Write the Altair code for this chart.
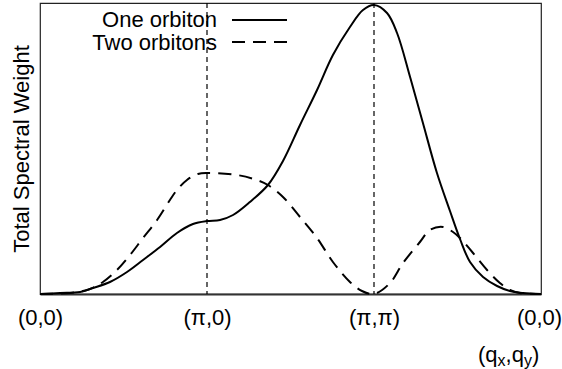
import altair as alt
import pandas as pd

# path positions along (0,0) -> (pi,0) -> (pi,pi) -> (0,0)
tick_pos = [0, 1, 2, 3]
tick_labels = ["(0,0)", "(π,0)", "(π,π)", "(0,0)"]

one_q = [0, 0.120, 0.240, 0.317, 0.419, 0.521, 0.617, 0.719, 0.820, 0.916, 1.0, 1.078, 1.156,
         1.257, 1.365, 1.455, 1.557, 1.659, 1.754, 1.856, 1.934, 2.0, 2.078, 2.138, 2.216,
         2.293, 2.377, 2.455, 2.515, 2.575, 2.653, 2.737, 2.814, 2.892, 3.0]
one_w = [0, 1, 2, 6, 12, 22, 34, 47, 61, 70, 73, 74, 79,
         92, 109, 133, 169, 204, 239, 267, 284, 289, 281, 261, 217,
         171, 121, 83, 55, 32, 17, 8, 3, 1, 0]

two_q = [0, 0.180, 0.299, 0.377, 0.461, 0.539, 0.617, 0.701, 0.778, 0.820, 0.880, 0.946, 1.0,
         1.180, 1.299, 1.365, 1.455, 1.557, 1.659, 1.754, 1.856, 1.928, 2.0, 2.096, 2.174,
         2.275, 2.335, 2.413, 2.473, 2.515, 2.593, 2.677, 2.754, 2.814, 2.874, 3.0]
two_w = [0, 1, 5, 12, 24, 39, 56, 74, 94, 104, 114, 120, 121,
         119, 114, 109, 97, 77, 56, 32, 12, 3, 0, 11, 31,
         52, 64, 67, 62, 56, 41, 24, 11, 4, 1, 0]

vlines = [1, 2]
legend_labels = ["One orbiton", "Two orbitons"]

FONT = "Liberation Sans"
FS = 22

df_one = pd.DataFrame({"q": one_q, "w": one_w})
df_two = pd.DataFrame({"q": two_q, "w": two_w})
df_v = pd.DataFrame({"q": vlines})
dummy = pd.DataFrame({"a": [0]})

label_expr = ("datum.value == 0 ? '" + tick_labels[0] + "' : datum.value == 1 ? '" + tick_labels[1] +
              "' : datum.value == 2 ? '" + tick_labels[2] + "' : '" + tick_labels[3] + "'")

xenc = alt.X("q:Q", scale=alt.Scale(domain=[0, 3], nice=False, zero=False),
             axis=alt.Axis(values=tick_pos, labelExpr=label_expr, title=None, ticks=False,
                           grid=False, labelFontSize=FS, labelFont=FONT, labelColor="black",
                           labelPadding=13, labelOverlap=False, labelBound=False, labelFlush=False,
                           labelOffset={"condition": {"test": "datum.value == 3", "value": -2}, "value": 0},
                           domainColor="#333", domainWidth=2))
yenc = alt.Y("w:Q", scale=alt.Scale(domain=[0, 291], nice=False),
             axis=alt.Axis(title="Total Spectral Weight", labels=False, ticks=False, grid=False,
                           domain=False, titleFont=FONT, titleFontSize=22, titleFontWeight="normal",
                           titleColor="black", titlePadding=7))

one = alt.Chart(df_one).mark_line(color="black", strokeWidth=2, interpolate="catmull-rom").encode(x=xenc, y=yenc)
two = alt.Chart(df_two).mark_line(color="black", strokeWidth=2, strokeDash=[13, 8],
                                  interpolate="catmull-rom").encode(x="q:Q", y="w:Q")
vr = alt.Chart(df_v).mark_rule(color="black", strokeWidth=1.2, strokeDash=[5, 4]).encode(x="q:Q")

leg1 = alt.Chart(dummy).mark_text(text=legend_labels[0], align="right", baseline="alphabetic",
                                  font=FONT, fontSize=FS, color="black").encode(x=alt.value(177), y=alt.value(24))
leg2 = alt.Chart(dummy).mark_text(text=legend_labels[1], align="right", baseline="alphabetic",
                                  font=FONT, fontSize=FS, color="black").encode(x=alt.value(177), y=alt.value(47))
legl1 = alt.Chart(dummy).mark_rule(color="black", strokeWidth=2).encode(
    x=alt.value(192), x2=alt.value(247), y=alt.value(17))
legl2 = alt.Chart(dummy).mark_rule(color="black", strokeWidth=2, strokeDash=[13, 8]).encode(
    x=alt.value(192), x2=alt.value(247), y=alt.value(39))

# (q_x,q_y) axis caption built from pieces for the subscripts
pieces = [("(q", 438, 359, FS), ("x", 457.6, 363, 16), (",q", 465.6, 359, FS),
          ("y", 483.9, 363, 16), (")", 491.9, 359, FS)]
cap_layers = []
for txt, px, py, fs in pieces:
    cap_layers.append(alt.Chart(dummy).mark_text(text=txt, align="left", baseline="alphabetic",
                                                 font=FONT, fontSize=fs, color="black")
                      .encode(x=alt.value(px), y=alt.value(py)))

chart = alt.layer(one, two, vr, leg1, leg2, legl1, legl2, *cap_layers).properties(
    width=501, height=291,
    padding={"left": 40, "top": 3, "right": 21, "bottom": 75},
    autosize=alt.AutoSizeParams(type="none"),
    background="white",
).configure_view(stroke="#222", strokeWidth=1.2)

chart.save("out.html", embed_options={"renderer": "svg", "actions": False})
